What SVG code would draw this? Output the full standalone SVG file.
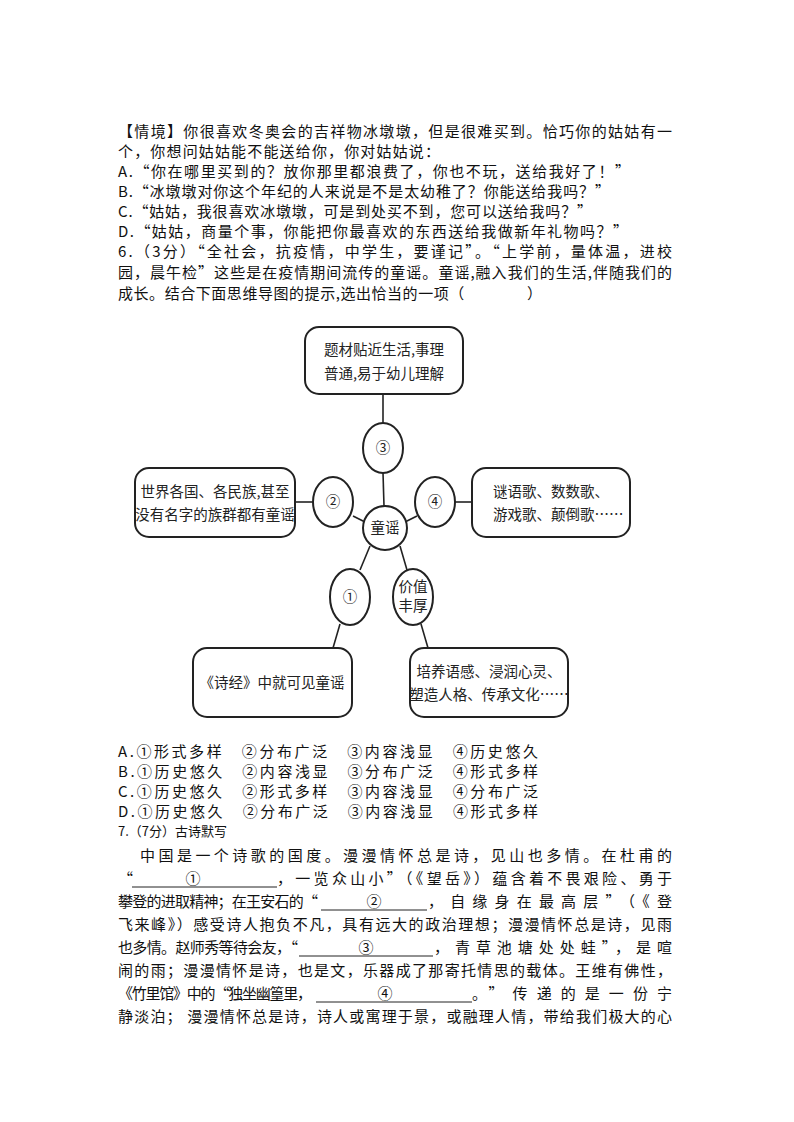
<svg xmlns="http://www.w3.org/2000/svg" width="794" height="1122" viewBox="0 0 794 1122">
<style>
.t{font-family:"Noto Sans CJK SC","Liberation Serif",serif;font-size:15px;fill:#111}
.d{font-family:"Noto Sans CJK SC",serif;font-size:14.5px;fill:#222}
.b{fill:#fff;stroke:#222;stroke-width:2}
.c{stroke:#222;stroke-width:1.6;fill:none}
.u{stroke:#222;stroke-width:1}
</style>
<rect width="794" height="1122" fill="#fff"/>
<g class="t">
<text x="118" y="137" textLength="554" lengthAdjust="spacing">【情境】你很喜欢冬奥会的吉祥物冰墩墩，但是很难买到。恰巧你的姑姑有一</text>
<text x="118" y="157" textLength="322" lengthAdjust="spacing">个，你想问姑姑能不能送给你，你对姑姑说：</text>
<text x="118" y="177" textLength="512" lengthAdjust="spacing">A.“你在哪里买到的？放你那里都浪费了，你也不玩，送给我好了！”</text>
<text x="118" y="197" textLength="492" lengthAdjust="spacing">B.“冰墩墩对你这个年纪的人来说是不是太幼稚了？你能送给我吗？”</text>
<text x="118" y="217" textLength="474" lengthAdjust="spacing">C.“姑姑，我很喜欢冰墩墩，可是到处买不到，您可以送给我吗？”</text>
<text x="118" y="237" textLength="510" lengthAdjust="spacing">D.“姑姑，商量个事，你能把你最喜欢的东西送给我做新年礼物吗？”</text>
<text x="118" y="257" textLength="554" lengthAdjust="spacing">6.（3分）“全社会，抗疫情，中学生，要谨记”。“上学前，量体温，进校</text>
<text x="118" y="278" textLength="554" lengthAdjust="spacing">园，晨午检”这些是在疫情期间流传的童谣。童谣,融入我们的生活,伴随我们的</text>
<text x="118" y="299" textLength="424" lengthAdjust="spacing">成长。结合下面思维导图的提示,选出恰当的一项（　　　　）</text>
<text x="118" y="757" textLength="420" lengthAdjust="spacing">A.①形式多样　②分布广泛　③内容浅显　④历史悠久</text>
<text x="118" y="777" textLength="420" lengthAdjust="spacing">B.①历史悠久　②内容浅显　③分布广泛　④形式多样</text>
<text x="118" y="797" textLength="420" lengthAdjust="spacing">C.①历史悠久　②形式多样　③内容浅显　④分布广泛</text>
<text x="118" y="817" textLength="420" lengthAdjust="spacing">D.①历史悠久　②分布广泛　③内容浅显　④形式多样</text>
<text x="118" y="836" style="font-size:13px">7.（7分）古诗默写</text>
<text x="140" y="861" textLength="532" lengthAdjust="spacing">中国是一个诗歌的国度。漫漫情怀总是诗，见山也多情。在杜甫的</text>
<text x="118" y="884">“</text>
<text x="193" y="884" text-anchor="middle">①</text>
<text x="277" y="884" textLength="395" lengthAdjust="spacing">，一览众山小”（《望岳》）蕴含着不畏艰险、勇于</text>
<text x="118" y="907" textLength="200" lengthAdjust="spacing">攀登的进取精神；在王安石的“</text>
<text x="374" y="907" text-anchor="middle">②</text>
<text x="428" y="907" textLength="244" lengthAdjust="spacing">，自缘身在最高层”（《登</text>
<text x="118" y="930" textLength="554" lengthAdjust="spacing">飞来峰》）感受诗人抱负不凡，具有远大的政治理想；漫漫情怀总是诗，见雨</text>
<text x="118" y="953" textLength="180" lengthAdjust="spacing">也多情。赵师秀等待会友，“</text>
<text x="366" y="953" text-anchor="middle">③</text>
<text x="434" y="953" textLength="238" lengthAdjust="spacing">，青草池塘处处蛙”，是喧</text>
<text x="118" y="976" textLength="554" lengthAdjust="spacing">闹的雨；漫漫情怀是诗，也是文，乐器成了那寄托情思的载体。王维有佛性，</text>
<text x="118" y="999" textLength="194" lengthAdjust="spacing">《竹里馆》中的“独坐幽篁里，</text>
<text x="385" y="999" text-anchor="middle">④</text>
<text x="472" y="999" textLength="200" lengthAdjust="spacing">。”传递的是一份宁</text>
<text x="118" y="1022" textLength="554" lengthAdjust="spacing">静淡泊； 漫漫情怀总是诗，诗人或寓理于景，或融理人情，带给我们极大的心</text>
</g>
<g class="u">
<line x1="132" y1="887" x2="277" y2="887"/>
<line x1="321" y1="910" x2="427" y2="910"/>
<line x1="299" y1="956" x2="433" y2="956"/>
<line x1="316" y1="1002" x2="472" y2="1002"/>
</g>
<g id="connectors" class="c">
<line x1="383" y1="394" x2="383" y2="423"/>
<line x1="383" y1="473" x2="384" y2="506"/>
<line x1="295" y1="502" x2="313" y2="502"/>
<line x1="353" y1="516" x2="365" y2="522"/>
<line x1="455" y1="502" x2="472" y2="502"/>
<line x1="417" y1="516" x2="405" y2="522"/>
<line x1="370" y1="546" x2="360" y2="570"/>
<line x1="400" y1="546" x2="407" y2="570"/>
<line x1="340" y1="624" x2="333" y2="648"/>
<line x1="421" y1="624" x2="428" y2="648"/>
</g>
<g id="n-top"><rect class="b" x="305" y="327" width="158" height="67" rx="14"/><text class="d" x="384" y="355" text-anchor="middle">题材贴近生活,事理</text><text class="d" x="384" y="379" text-anchor="middle">普通,易于幼儿理解</text></g>
<g id="n3"><ellipse class="b" cx="383" cy="448" rx="20" ry="25"/><text class="d" x="383" y="453" text-anchor="middle">③</text></g>
<g id="n2"><ellipse class="b" cx="333" cy="502" rx="20" ry="25"/><text class="d" x="333" y="507" text-anchor="middle">②</text></g>
<g id="n4"><ellipse class="b" cx="435" cy="502" rx="20" ry="25"/><text class="d" x="435" y="507" text-anchor="middle">④</text></g>
<g id="center"><circle class="b" cx="385" cy="528" r="22"/><text class="d" x="385" y="533" text-anchor="middle">童谣</text></g>
<g id="n1"><ellipse class="b" cx="350" cy="597" rx="20" ry="28"/><text class="d" x="350" y="602" text-anchor="middle">①</text></g>
<g id="nv"><ellipse class="b" cx="413" cy="597" rx="20" ry="28"/><text class="d" x="413" y="592" text-anchor="middle">价值</text><text class="d" x="413" y="611" text-anchor="middle">丰厚</text></g>
<g id="n-left"><rect class="b" x="135" y="468" width="160" height="69" rx="14"/><text class="d" x="215" y="497" text-anchor="middle">世界各国、各民族,甚至</text><text class="d" x="215" y="520" text-anchor="middle">没有名字的族群都有童谣</text></g>
<g id="n-right"><rect class="b" x="472" y="468" width="158" height="69" rx="14"/><text class="d" x="493" y="497">谜语歌、数数歌、</text><text class="d" x="493" y="520">游戏歌、颠倒歌……</text></g>
<g id="n-bl"><rect class="b" x="193" y="648" width="159" height="69" rx="14"/><text class="d" x="272" y="688" text-anchor="middle">《诗经》中就可见童谣</text></g>
<g id="n-br"><rect class="b" x="410" y="648" width="158" height="69" rx="14"/><text class="d" x="489" y="677" text-anchor="middle">培养语感、浸润心灵、</text><text class="d" x="489" y="700" text-anchor="middle">塑造人格、传承文化……</text></g>
</svg>
